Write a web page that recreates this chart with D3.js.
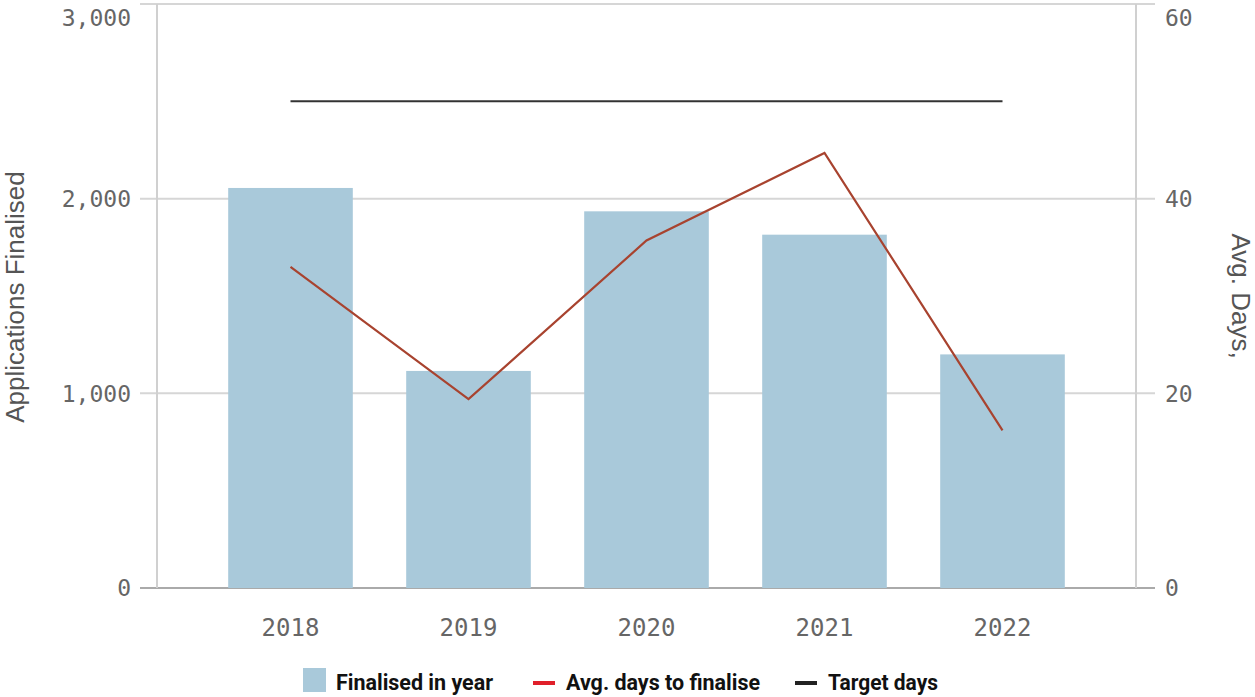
<!DOCTYPE html>
<html>
<head>
<meta charset="utf-8">
<script src="https://cdn.jsdelivr.net/npm/d3@7"></script>
<style>
  body { margin: 0; background: #fff; }
  .tick-label { font-family: "DejaVu Sans Mono", monospace; fill: #666; }
  .axis-title { font-family: "Liberation Sans", Arial, sans-serif; fill: #555; font-size: 26px; }
  .legend-text { font-family: Roboto, "Liberation Sans", sans-serif; font-weight: 700; fill: #111; font-size: 22.5px; }
</style>
</head>
<body>
<div id="chart"></div>
<script>
const years = ["2018", "2019", "2020", "2021", "2022"];
const finalised = [2055, 1115, 1935, 1815, 1200];
const avgDays = [33, 19.4, 35.7, 44.7, 16.2];
const targetDays = [50, 50, 50, 50, 50];
const leftTicks = [0, 1000, 2000, 3000];
const rightTicks = [0, 20, 40, 60];
const legendItems = ["Finalised in year", "Avg. days to finalise", "Target days"];

const width = 1255, height = 697;
const margin = {top: 4, right: 119, bottom: 109, left: 157};

const svg = d3.select("#chart").append("svg")
  .attr("width", width)
  .attr("height", height);

const x = d3.scaleBand()
  .domain(years)
  .range([margin.left, width - margin.right])
  .paddingInner(0.3)
  .paddingOuter(0.4);

const yLeft = d3.scaleLinear().domain([0, 3000]).range([height - margin.bottom, margin.top]);
const yRight = d3.scaleLinear().domain([0, 60]).range([height - margin.bottom, margin.top]);

const x0 = margin.left, x1 = width - margin.right;

// grid lines (with the tick stubs on both sides)
svg.append("g").selectAll("line")
  .data(leftTicks)
  .join("line")
  .attr("x1", x0 - 17)
  .attr("x2", x1 + 19)
  .attr("y1", d => yLeft(d))
  .attr("y2", d => yLeft(d))
  .style("stroke", d => d === 0 ? "#aaa" : "#d6d6d6")
  .style("stroke-width", 2);

// vertical axis lines
svg.append("g").selectAll("line")
  .data([x0, x1])
  .join("line")
  .attr("x1", d => d).attr("x2", d => d)
  .attr("y1", yLeft(3000)).attr("y2", yLeft(0))
  .style("stroke", "#d0d0d0")
  .style("stroke-width", 2);

// bars
svg.append("g").selectAll("rect")
  .data(years)
  .join("rect")
  .attr("x", d => x(d))
  .attr("width", x.bandwidth())
  .attr("y", (d, i) => yLeft(finalised[i]))
  .attr("height", (d, i) => yLeft(0) - yLeft(finalised[i]))
  .style("fill", "#a9c9da");

const cx = d => x(d) + x.bandwidth() / 2;

// target line
svg.append("path")
  .datum(years)
  .attr("d", d3.line().x(d => cx(d)).y((d, i) => yRight(targetDays[i])))
  .style("fill", "none")
  .style("stroke", "#333")
  .style("stroke-width", 2);

// avg days line
svg.append("path")
  .datum(years)
  .attr("d", d3.line().x(d => cx(d)).y((d, i) => yRight(avgDays[i])))
  .style("fill", "none")
  .style("stroke", "#a8432f")
  .style("stroke-width", 2.2);

// tick labels, top label is pushed down to stay on page
const labelY = v => Math.max(v, 18);

svg.append("g").selectAll("text")
  .data(leftTicks)
  .join("text")
  .attr("class", "tick-label")
  .attr("x", x0 - 26)
  .attr("y", d => labelY(yLeft(d)))
  .attr("dy", "0.36em")
  .attr("text-anchor", "end")
  .style("font-size", "23px")
  .text(d3.format(","));

svg.append("g").selectAll("text")
  .data(rightTicks)
  .join("text")
  .attr("class", "tick-label")
  .attr("x", x1 + 29)
  .attr("y", d => labelY(yRight(d)))
  .attr("dy", "0.36em")
  .attr("text-anchor", "start")
  .style("font-size", "23px")
  .text(d => d);

const xAxis = svg.append("g")
  .attr("transform", "translate(0," + yLeft(0) + ")")
  .call(d3.axisBottom(x).tickSize(0).tickPadding(31));
xAxis.select(".domain").remove();
xAxis.selectAll("text")
  .attr("class", "tick-label")
  .style("font-size", "24px")
  .style("font-family", "DejaVu Sans Mono, monospace")
  .attr("fill", "#666");

// axis titles
svg.append("text")
  .attr("class", "axis-title")
  .attr("transform", "translate(15," + 297 + ") rotate(-90)")
  .attr("text-anchor", "middle")
  .attr("dy", "0.35em")
  .text("Applications Finalised");

svg.append("text")
  .attr("class", "axis-title")
  .attr("transform", "translate(1241," + 296 + ") rotate(90)")
  .attr("text-anchor", "middle")
  .attr("dy", "0.35em")
  .text("Avg. Days,");

// legend
const legendX = [303, 533, 795];
const legendW = [157, 194, 110];
const legend = svg.append("g");
legendItems.forEach((name, i) => {
  const g = legend.append("g").attr("transform", "translate(" + legendX[i] + ",0)");
  if (i === 0) {
    g.append("rect").attr("x", 0).attr("y", 668).attr("width", 23).attr("height", 24).style("fill", "#a9c9da");
  } else {
    g.append("rect").attr("x", 0).attr("y", 681).attr("width", 22).attr("height", 4)
      .style("fill", i === 1 ? "#e0202a" : "#222");
  }
  g.append("text")
    .attr("class", "legend-text")
    .attr("x", 33)
    .attr("y", 690)
    .attr("textLength", legendW[i])
    .attr("lengthAdjust", "spacingAndGlyphs")
    .text(name);
});
</script>
</body>
</html>
